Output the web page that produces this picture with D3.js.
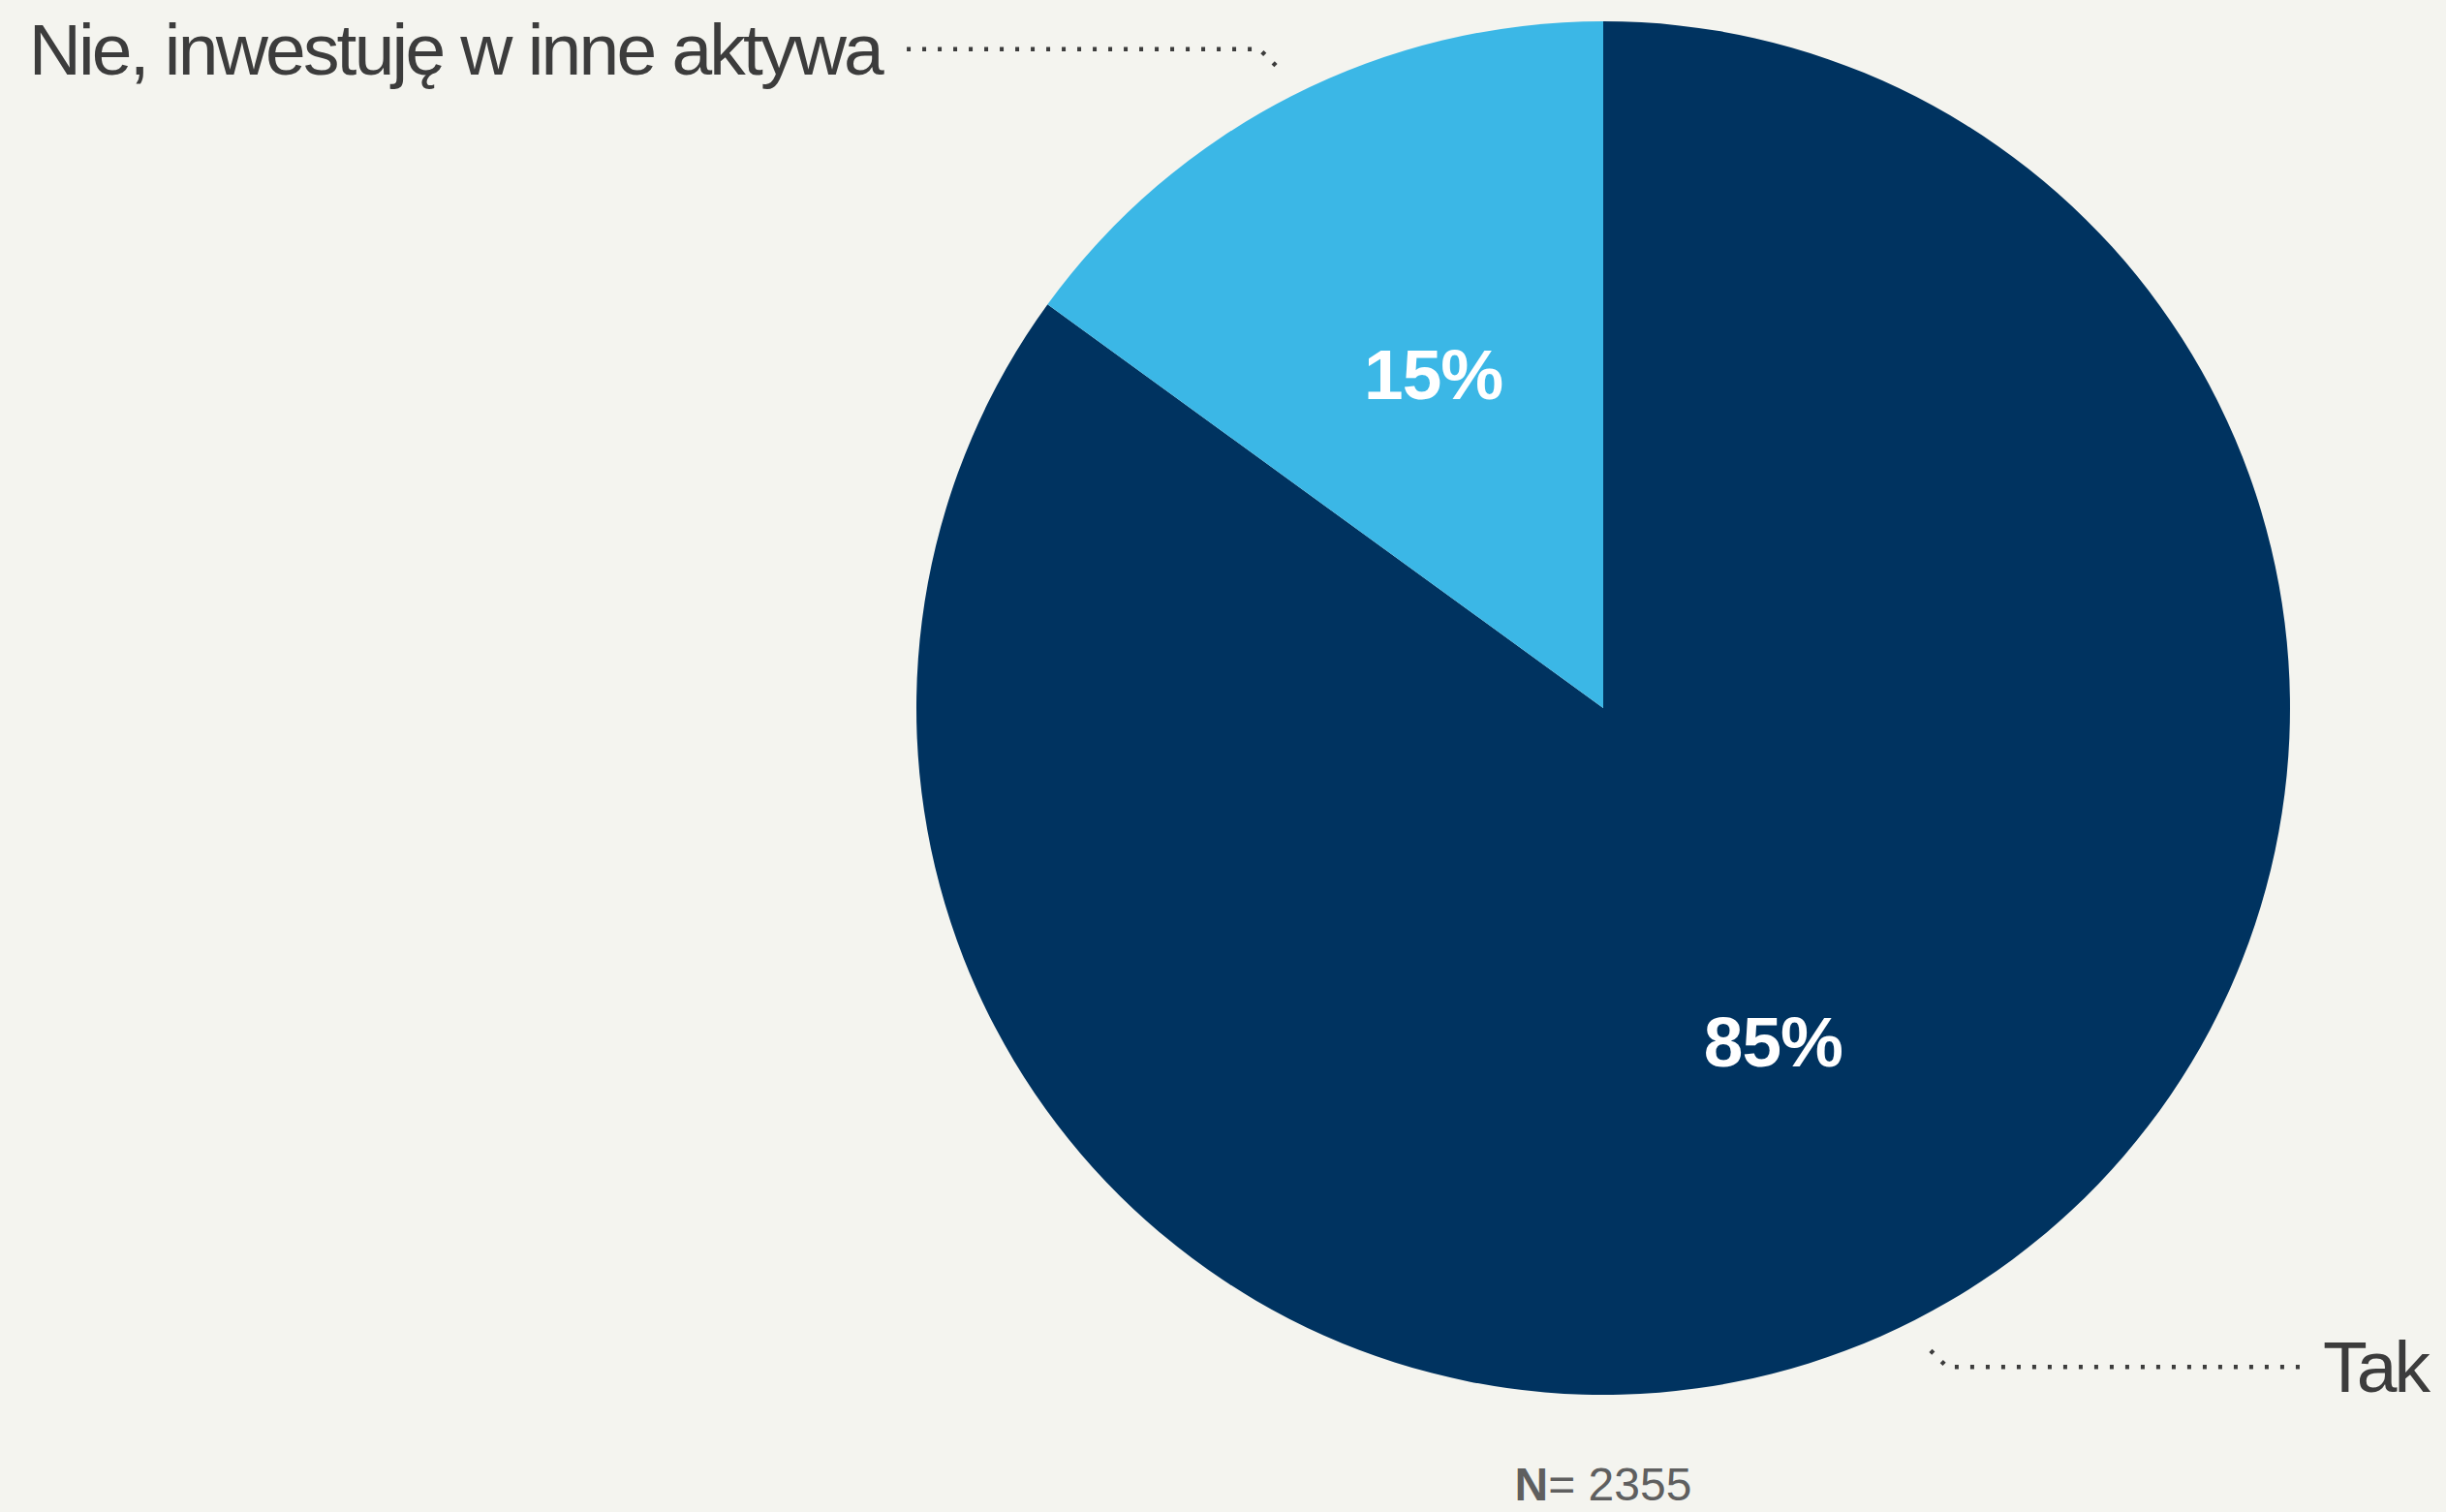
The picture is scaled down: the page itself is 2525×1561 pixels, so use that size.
<!DOCTYPE html>
<html>
<head>
<meta charset="utf-8">
<script src="https://cdn.jsdelivr.net/npm/d3@7"></script>
<style>
  html, body { margin: 0; padding: 0; background: #f4f4ef; }
  svg { display: block; }
</style>
</head>
<body>
<svg id="chart"></svg>
<script>
// answer categories and shares (percent)
var labels = ["Tak", "Nie, inwestuję w inne aktywa"];
var values = [85, 15];
var colors = ["#003360", "#3bb7e6"];
var sampleSize = 2355;

var width = 2525;
var height = 1561;
var svg = d3.select("#chart").attr("width", width).attr("height", height);

var cx = 1655, cy = 731, radius = 709;

var pie = d3.pie().sort(null).value(function(d){ return d; });
var arcs = pie(values);

var arc = d3.arc().innerRadius(0).outerRadius(radius);

var g = svg.append("g").attr("transform", "translate(" + cx + "," + cy + ")");

// slices
g.selectAll("path.slice")
  .data(arcs)
  .enter()
  .append("path")
  .attr("class", "slice")
  .attr("fill", function(d,i){ return colors[i]; })
  .attr("d", arc);

// percentages inside
function polar(a, r) { return [Math.sin(a) * r, -Math.cos(a) * r]; }

g.selectAll("text.pct")
  .data(arcs)
  .enter()
  .append("text")
  .attr("class", "pct")
  .attr("x", function(d){ return polar((d.startAngle + d.endAngle) / 2, radius * 0.545)[0]; })
  .attr("y", function(d){ return polar((d.startAngle + d.endAngle) / 2, radius * 0.545)[1]; })
  .attr("text-anchor", "middle")
  .attr("dominant-baseline", "central")
  .attr("fill", "#fff")
  .style("font-family", "'Liberation Sans', Arial, sans-serif")
  .style("font-weight", "bold")
  .style("font-size", "73px")
  .style("letter-spacing", "-1px")
  .text(function(d){ return d.value + "%"; });

// leader lines + outside labels
var lineLen = [372, 374];
arcs.forEach(function(d, i){
  var mid = (d.startAngle + d.endAngle) / 2;
  var p1 = polar(mid, radius * 1.05);
  var side = Math.sin(mid) >= 0 ? 1 : -1;
  var up = -Math.cos(mid) >= 0 ? 1 : -1;
  var p2 = [p1[0] + side * 17, p1[1] + up * 17];
  var p3 = [p2[0] + side * lineLen[i], p2[1]];

  g.append("path")
    .attr("fill", "none")
    .attr("stroke", "#3c3c3c")
    .attr("stroke-width", 4.5)
    .attr("stroke-dasharray", "4 12")
    .attr("d", d3.line()([p1, p2, p3]));

  g.append("text")
    .attr("x", p3[0] + side * 16)
    .attr("y", p3[1] + 26)
    .attr("text-anchor", side > 0 ? "start" : "end")
    .attr("fill", "#3c3c3c")
    .style("font-family", "'Liberation Sans', Arial, sans-serif")
    .style("font-size", "75px")
    .style("letter-spacing", "-2.8px")
    .text(labels[i]);
});

// sample size note
var note = svg.append("text")
  .attr("x", cx)
  .attr("y", 1549)
  .attr("text-anchor", "middle")
  .attr("fill", "#5f5f5f")
  .style("font-family", "'Liberation Sans', Arial, sans-serif")
  .style("font-size", "48px");
note.append("tspan").style("font-weight", "bold").text("N");
note.append("tspan").text("= " + sampleSize);
</script>
</body>
</html>
